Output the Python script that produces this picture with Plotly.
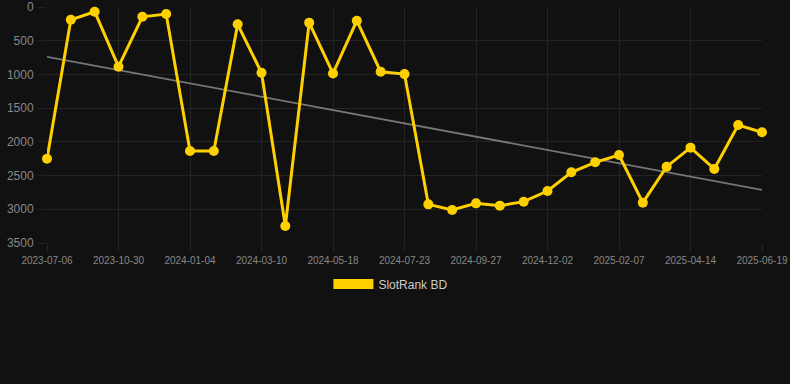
import numpy as np
import plotly.graph_objects as go

dates = [
    "2023-07-06", "2023-08-14", "2023-09-22", "2023-10-30", "2023-11-21", "2023-12-13",
    "2024-01-04", "2024-01-26", "2024-02-17", "2024-03-10", "2024-04-02", "2024-04-25",
    "2024-05-18", "2024-06-09", "2024-07-01", "2024-07-23", "2024-08-14", "2024-09-05",
    "2024-09-27", "2024-10-19", "2024-11-10", "2024-12-02", "2024-12-24", "2025-01-16",
    "2025-02-07", "2025-03-01", "2025-03-23", "2025-04-14", "2025-05-06", "2025-05-28",
    "2025-06-19",
]
ranks = [
    2250, 190, 70, 885, 145, 105,
    2135, 2135, 257, 975, 3248, 232,
    985, 203, 960, 995, 2927, 3010,
    2912, 2946, 2887, 2729, 2452, 2303,
    2195, 2902, 2368, 2086, 2402, 1750,
    1858,
]
y_ticks = [0, 500, 1000, 1500, 2000, 2500, 3000, 3500]
x_ticks = dates[::3]
series_name = "SlotRank BD"

gold = "#FFD000"
idx = np.arange(len(ranks))
slope, intercept = np.polyfit(idx, ranks, 1)
trend = slope * idx + intercept

fig = go.Figure()
fig.add_trace(go.Scatter(
    x=dates, y=trend, mode="lines",
    line=dict(color="#777777", width=1.8),
    showlegend=False, hoverinfo="skip",
))
fig.add_trace(go.Scatter(
    x=dates, y=ranks, mode="lines+markers",
    line=dict(color=gold, width=3),
    marker=dict(color=gold, size=10),
    showlegend=False, cliponaxis=False,
))
fig.add_trace(go.Scatter(
    x=[None], y=[None], mode="lines",
    line=dict(color=gold, width=11),
    name=series_name, showlegend=True,
))

grid = "#232323"
fig.update_layout(
    width=790, height=384,
    paper_bgcolor="#111111", plot_bgcolor="#111111",
    margin=dict(l=47, r=28, t=7, b=141, autoexpand=False),
    font=dict(family="Liberation Sans, Arial, sans-serif", color="#888888"),
    showlegend=True,
    legend=dict(
        orientation="h", x=0.481, xanchor="center", y=-0.174, yanchor="middle",
        itemwidth=40,
        font=dict(size=12, color="#cccccc"), bgcolor="rgba(0,0,0,0)",
    ),
    xaxis=dict(
        type="category", categoryorder="array", categoryarray=dates,
        range=[0, len(dates) - 1], automargin=False,
        tickmode="array", tickvals=x_ticks, ticktext=x_ticks,
        tickfont=dict(size=10, color="#888888"),
        showgrid=True, gridcolor=grid, gridwidth=1,
        ticks="outside", ticklen=8, tickcolor=grid,
        showline=False, zeroline=False,
    ),
    yaxis=dict(
        range=[3500, 0], automargin=False,
        tickmode="array", tickvals=y_ticks,
        tickfont=dict(size=12, color="#888888"),
        showgrid=True, gridcolor=grid, gridwidth=1,
        ticks="outside", ticklen=8, tickcolor=grid,
        ticklabelstandoff=2,
        showline=False, zeroline=False,
    ),
)
fig.write_html(
    "out.html",
    config={"displayModeBar": False},
    post_script="document.body.style.margin='0';document.body.style.background='#111111';",
)
